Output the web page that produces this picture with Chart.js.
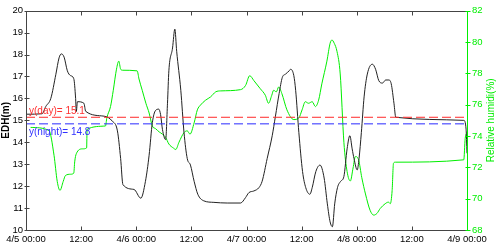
<!DOCTYPE html>
<html>
<head>
<meta charset="utf-8">
<script src="https://cdn.jsdelivr.net/npm/chart.js@4/dist/chart.umd.min.js"></script>
<style>
  html, body { margin: 0; padding: 0; background: #fff; }
</style>
</head>
<body>
<canvas id="edhChart" width="498" height="246"></canvas>
<script>
// hours since 4/5 00:00
const xTickLabels = ["4/5 00:00", "12:00", "4/6 00:00", "12:00", "4/7 00:00", "12:00", "4/8 00:00", "12:00", "4/9 00:00"];

const edhHours = [0.2, 3.5, 4.3, 5.4, 6.5, 7.2, 7.7, 8.3, 9.0, 9.7, 10.4, 10.8, 10.95, 11.2, 12.6, 13.0, 17.0, 18.8, 19.9, 20.6, 21.1, 23.5,
  25.0, 26.0, 26.8, 27.5, 28.2, 28.9, 29.3, 29.7, 30.4, 30.8, 31.1, 31.9, 32.4, 32.8, 33.7, 34.4, 35.1, 35.8, 36.6, 37.4, 38.7, 40.9, 43.8, 46.7, 47.8,
  48.5, 49.6, 50.7, 51.4, 52.5, 53.6, 54.3, 55.1, 55.8, 56.5, 57.3, 57.6, 58.3, 58.7, 59.4, 60.2, 60.9, 61.8, 62.3, 63.1, 64.0, 64.9, 65.6, 66.2, 66.7,
  67.2, 67.8, 68.5, 69.2, 69.9, 70.5, 71.0, 71.4, 72.1, 72.5, 73.0, 73.6, 74.3, 75.4, 76.1, 76.8, 77.6, 78.3, 79.0, 79.5, 80.1, 80.5, 95.3, 95.8, 96.0];
const edhValues = [15.28, 15.3, 15.63, 16.0, 17.1, 17.85, 18.03, 17.88, 17.26, 17.04, 16.9, 16.0, 15.4, 15.85, 15.78, 15.41, 15.19, 14.96, 14.52, 13.26, 12.07, 11.85,
  11.45, 12.22, 13.41, 14.89, 15.45, 15.51, 15.26, 14.59, 14.12, 15.78, 17.26, 18.3, 19.16, 18.15, 16.37, 14.44, 13.26, 12.96, 12.22, 11.63, 11.33, 11.26, 11.23, 11.23, 11.48,
  11.7, 11.78, 11.93, 12.22, 13.26, 14.3, 15.19, 16.22, 16.96, 17.11, 17.26, 17.33, 17.04, 16.37, 14.44, 12.67, 11.93, 11.63, 11.93, 12.67, 12.96, 12.37, 11.19, 10.37, 10.15,
  11.19, 11.93, 12.22, 12.44, 13.7, 14.3, 13.7, 13.26, 12.74, 13.26, 14.44, 16.07, 17.11, 17.56, 17.33, 16.81, 16.7, 16.84, 16.84, 16.67, 15.78, 15.14, 15.0, 14.6, 13.5];

const humHours = [1.0, 5.0, 6.1, 6.8, 7.4, 8.1, 8.6, 9.7, 10.4, 10.6, 10.95, 12.3, 13.2, 13.3, 17.3, 17.6, 18.4, 19.0, 19.7, 20.2, 20.6, 21.0, 24.2,
  24.6, 25.3, 26.1, 26.8, 27.5, 28.2, 29.0, 29.7, 30.4, 31.1, 32.1, 32.6, 33.3, 34.4, 35.1, 35.7, 36.6, 37.3, 38.0, 39.1, 40.2, 41.3, 42.4, 46.7, 47.8,
  48.7, 49.6, 51.0, 52.1, 52.8, 53.5, 53.9, 54.5, 55.0, 55.7, 56.8, 58.3, 59.4, 60.1, 60.8, 61.5, 62.3, 63.0, 63.7, 64.4, 65.5, 66.2, 66.6, 67.1, 67.7, 68.4,
  69.2, 69.9, 70.6, 71.2, 71.7, 72.4, 73.1, 73.9, 74.9, 75.7, 76.4, 77.1, 78.2, 78.9, 79.3, 79.7, 80.0, 80.4, 95.3, 95.6, 96.0];
const humValues = [74.55, 74.35, 72.77, 71.1, 70.53, 71.1, 71.48, 71.56, 71.63, 72.35, 72.87, 73.18, 73.24, 74.43, 74.64, 75.16, 75.88, 76.92, 78.27, 78.78, 78.27, 78.2, 78.16,
  77.64, 76.92, 76.09, 75.47, 74.64, 74.47, 74.26, 74.12, 73.91, 73.49, 73.23, 73.14, 73.6, 74.22, 74.33, 74.12, 74.84, 75.67, 75.98, 76.29, 76.5, 76.82, 76.88, 76.96, 77.23,
  77.85, 77.54, 77.02, 76.6, 76.09, 76.6, 76.92, 76.82, 77.13, 76.71, 75.67, 75.05, 75.16, 75.67, 76.19, 76.09, 76.19, 75.88, 76.29, 77.33, 78.78, 79.92, 80.13, 79.92, 79.4, 77.96,
  73.6, 71.73, 71.13, 71.96, 72.69, 72.48, 71.34, 70.3, 69.26, 68.95, 69.06, 69.37, 69.68, 69.78, 69.68, 70.51, 72.27, 72.33, 72.48, 73.83, 74.24];

const dayMean = 15.14;
const nightMean = 14.84;

const GREEN = "#00ee00";
const FONT = "Liberation Sans, Arial, sans-serif";

const edhData = edhHours.map((h, i) => ({ x: h, y: edhValues[i] }));
const humData = humHours.map((h, i) => ({ x: h, y: humValues[i] }));

// MATLAB-like box, short ticks, axis titles and mean labels
const boxPlugin = {
  id: "box",
  afterDraw(chart) {
    const { ctx, chartArea: a, scales } = chart;
    const L = Math.round(a.left) + 0.5, R = Math.round(a.right) + 0.5;
    const T = Math.round(a.top) + 0.5, B = Math.round(a.bottom) + 0.5;
    ctx.save();
    ctx.lineWidth = 1;
    ctx.strokeStyle = "#444";
    ctx.beginPath();
    ctx.moveTo(L, B); ctx.lineTo(L, T); ctx.lineTo(R, T);
    ctx.moveTo(L, B); ctx.lineTo(R, B);
    ctx.stroke();
    scales.x.ticks.forEach(t => {
      const px = Math.round(scales.x.getPixelForValue(t.value)) + 0.5;
      ctx.beginPath();
      ctx.moveTo(px, B); ctx.lineTo(px, B - 4);
      ctx.moveTo(px, T); ctx.lineTo(px, T + 4);
      ctx.stroke();
    });
    scales.y.ticks.forEach(t => {
      const py = Math.round(scales.y.getPixelForValue(t.value)) + 0.5;
      ctx.beginPath();
      ctx.moveTo(L - 2, py); ctx.lineTo(L + 3, py);
      ctx.stroke();
    });
    ctx.strokeStyle = GREEN;
    ctx.beginPath();
    ctx.moveTo(R, T); ctx.lineTo(R, B);
    ctx.stroke();
    scales.y1.ticks.forEach(t => {
      const py = Math.round(scales.y1.getPixelForValue(t.value)) + 0.5;
      ctx.beginPath();
      ctx.moveTo(R - 2, py); ctx.lineTo(R + 3, py);
      ctx.stroke();
    });

    // axis titles
    ctx.font = "bold 10px " + FONT;
    ctx.fillStyle = "#000";
    ctx.textAlign = "center";
    ctx.textBaseline = "middle";
    ctx.translate(6, (a.top + a.bottom) / 2);
    ctx.rotate(-Math.PI / 2);
    ctx.fillText("EDH(m)", 0, 0);
    ctx.setTransform(1, 0, 0, 1, 0, 0);
    ctx.font = "10px " + FONT;
    ctx.fillStyle = GREEN;
    ctx.translate(491, (a.top + a.bottom) / 2);
    ctx.rotate(-Math.PI / 2);
    ctx.fillText("Relative humidi(%)", 0, 0);
    ctx.setTransform(1, 0, 0, 1, 0, 0);

    // mean labels
    ctx.font = "10px " + FONT;
    ctx.textAlign = "left";
    ctx.textBaseline = "alphabetic";
    ctx.fillStyle = "#ff3030";
    ctx.fillText("y(day)= " + dayMean.toFixed(1), a.left + 3, scales.y.getPixelForValue(dayMean) - 3);
    ctx.fillStyle = "#3030ff";
    ctx.textBaseline = "top";
    ctx.fillText("y(night)= " + nightMean.toFixed(1), a.left + 3, scales.y.getPixelForValue(nightMean) + 3);
    ctx.restore();
  }
};

new Chart(document.getElementById("edhChart"), {
  type: "line",
  data: {
    datasets: [
      {
        label: "y(day)",
        data: [{ x: 0, y: dayMean }, { x: 96, y: dayMean }],
        borderColor: "#ff2a2a",
        borderWidth: 1,
        borderDash: [9, 4],
        pointRadius: 0,
        yAxisID: "y",
      },
      {
        label: "y(night)",
        data: [{ x: 0, y: nightMean }, { x: 96, y: nightMean }],
        borderColor: "#2a2aff",
        borderWidth: 1,
        borderDash: [9, 4],
        pointRadius: 0,
        yAxisID: "y",
      },
      {
        label: "EDH",
        data: edhData,
        borderColor: "#222",
        borderWidth: 1,
        pointRadius: 0,
        cubicInterpolationMode: "monotone",
        yAxisID: "y",
      },
      {
        label: "Relative humidity",
        data: humData,
        borderColor: GREEN,
        borderWidth: 1,
        pointRadius: 0,
        cubicInterpolationMode: "monotone",
        yAxisID: "y1",
      },
    ],
  },
  options: {
    responsive: false,
    animation: false,
    devicePixelRatio: 1,
    layout: { padding: { top: 5, bottom: 0, left: 0, right: 0 } },
    plugins: { legend: { display: false }, tooltip: { enabled: false } },
    scales: {
      x: {
        type: "linear",
        min: 0,
        max: 96,
        border: { display: false },
        grid: { display: false, drawTicks: false },
        ticks: {
          stepSize: 12,
          autoSkip: false,
          maxRotation: 0,
          padding: 4,
          color: "#000",
          font: { size: 9.5, family: FONT },
          callback: (v) => xTickLabels[v / 12],
        },
        afterFit: (s) => { s.height = 16; },
      },
      y: {
        position: "left",
        min: 10,
        max: 20,
        border: { display: false },
        grid: { display: false, drawTicks: false },
        ticks: { stepSize: 1, autoSkip: false, padding: 3, color: "#000", font: { size: 9.5, family: FONT } },
        afterFit: (s) => { s.width = 26; },
      },
      y1: {
        position: "right",
        min: 68,
        max: 82,
        border: { display: false },
        grid: { display: false, drawTicks: false },
        ticks: { stepSize: 2, autoSkip: false, padding: 5, color: GREEN, font: { size: 9.5, family: FONT } },
        afterFit: (s) => { s.width = 31; },
      },
    },
  },
  plugins: [boxPlugin],
});
</script>
</body>
</html>
